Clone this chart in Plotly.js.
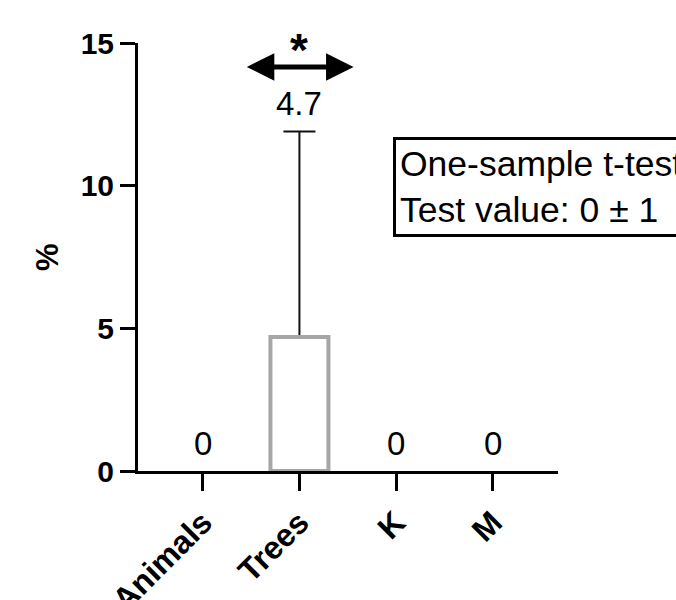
<!DOCTYPE html>
<html>
<head>
<meta charset="utf-8">
<script src="https://cdn.plot.ly/plotly-3.0.1.min.js"></script>
<style>html,body{margin:0;padding:0;background:#fff;}#chart{width:676px;height:600px;}</style>
</head>
<body>
<div id="chart"></div>
<script>
const categories = ['Animals', 'Trees', 'K', 'M'];
const values = [0, 4.7, 0, 0];
const errorsUp = [0, 7.2, 0, 0];
const valueLabels = ['0', '4.7', '0', '0'];
const yTickVals = [0, 5, 10, 15];
const yTickText = ['0', '5', '10', '15'];
const testLines = ['One-sample t-test', 'Test value: 0 ± 1'];
const sigMark = '*';
const sigCategory = 'Trees';

const FONT = 'Arial, "Liberation Sans", Helvetica, sans-serif';

// only categories that actually have an error bar
const errIdx = errorsUp.map((e, i) => e > 0 ? i : -1).filter(i => i >= 0);

// error bars (drawn underneath; lower half hidden by the bar drawn on top)
const errTrace = {
  type: 'bar',
  x: errIdx.map(i => categories[i]),
  y: errIdx.map(i => values[i]),
  width: 0.6,
  marker: { color: 'rgba(0,0,0,0)', line: { width: 0 } },
  error_y: {
    type: 'data',
    symmetric: true,
    array: errIdx.map(i => errorsUp[i]),
    color: '#111111',
    thickness: 2,
    width: 16,
    visible: true
  },
  hoverinfo: 'none'
};

const barTrace = {
  type: 'bar',
  x: categories,
  y: values,
  width: 0.6,
  marker: {
    color: '#ffffff',
    line: { color: '#a6a6a6', width: values.map(v => v > 0 ? 4 : 0) }
  },
  hoverinfo: 'none'
};

const annotations = [];
categories.forEach((c, i) => {
  annotations.push({
    x: c, y: values[i] + errorsUp[i], xref: 'x', yref: 'y',
    text: valueLabels[i], showarrow: false,
    yanchor: 'bottom', yshift: 7,
    font: { family: FONT, size: 33, color: '#000' }
  });
});

// significance arrow (double-headed) centered on the marked category
const ci = categories.indexOf(sigCategory);
annotations.push({
  x: ci + 0.56, y: 14.16, ax: ci - 0.56, ay: 14.16,
  xref: 'x', yref: 'y', axref: 'x', ayref: 'y',
  text: '', showarrow: true,
  arrowhead: 2, startarrowhead: 2, arrowside: 'end+start',
  arrowsize: 1.1, startarrowsize: 1.1, arrowwidth: 5, arrowcolor: '#000'
});
annotations.push({
  x: sigCategory, y: 14.75, xref: 'x', yref: 'y',
  text: '<b>' + sigMark + '</b>', showarrow: false,
  yanchor: 'middle',
  font: { family: FONT, size: 46, color: '#000' }
});

// test info box
annotations.push({
  x: 0.607, y: 0.780, xref: 'paper', yref: 'paper',
  xanchor: 'left', yanchor: 'top', align: 'left',
  text: testLines.join('<br>'), showarrow: false,
  bordercolor: '#000', borderwidth: 3, borderpad: 4, bgcolor: '#fff',
  font: { family: FONT, size: 35.5, color: '#000' }
});

// y-axis title
annotations.push({
  x: (47 - 138) / 420, y: 0.5, xref: 'paper', yref: 'paper',
  text: '<b>%</b>', showarrow: false, textangle: -90,
  xanchor: 'center', yanchor: 'middle',
  font: { family: FONT, size: 31, color: '#000' }
});

const layout = {
  width: 676, height: 600,
  margin: { l: 138, r: 118, t: 43, b: 129.3, pad: 0 },
  paper_bgcolor: '#fff', plot_bgcolor: '#fff',
  showlegend: false,
  barmode: 'overlay',
  font: { family: FONT, color: '#000' },
  xaxis: {
    type: 'category',
    categoryorder: 'array', categoryarray: categories,
    range: [-0.67, 3.675],
    showline: true, linecolor: '#000', linewidth: 3,
    ticks: 'outside', ticklen: 17, tickwidth: 3, tickcolor: '#000',
    tickangle: -45,
    tickfont: { family: FONT, size: 32, color: '#000', weight: 'bold' },
    showgrid: false, zeroline: false, fixedrange: true
  },
  yaxis: {
    range: [0, 15],
    tickvals: yTickVals, ticktext: yTickText,
    showline: true, linecolor: '#000', linewidth: 3,
    ticks: 'outside', ticklen: 15, tickwidth: 3, tickcolor: '#000',
    tickfont: { family: FONT, size: 30, color: '#000', weight: 'bold' },
    showgrid: false, zeroline: false, fixedrange: true
  },
  annotations: annotations
};

Plotly.newPlot('chart', [errTrace, barTrace], layout, { displayModeBar: false, staticPlot: true });
</script>
</body>
</html>
